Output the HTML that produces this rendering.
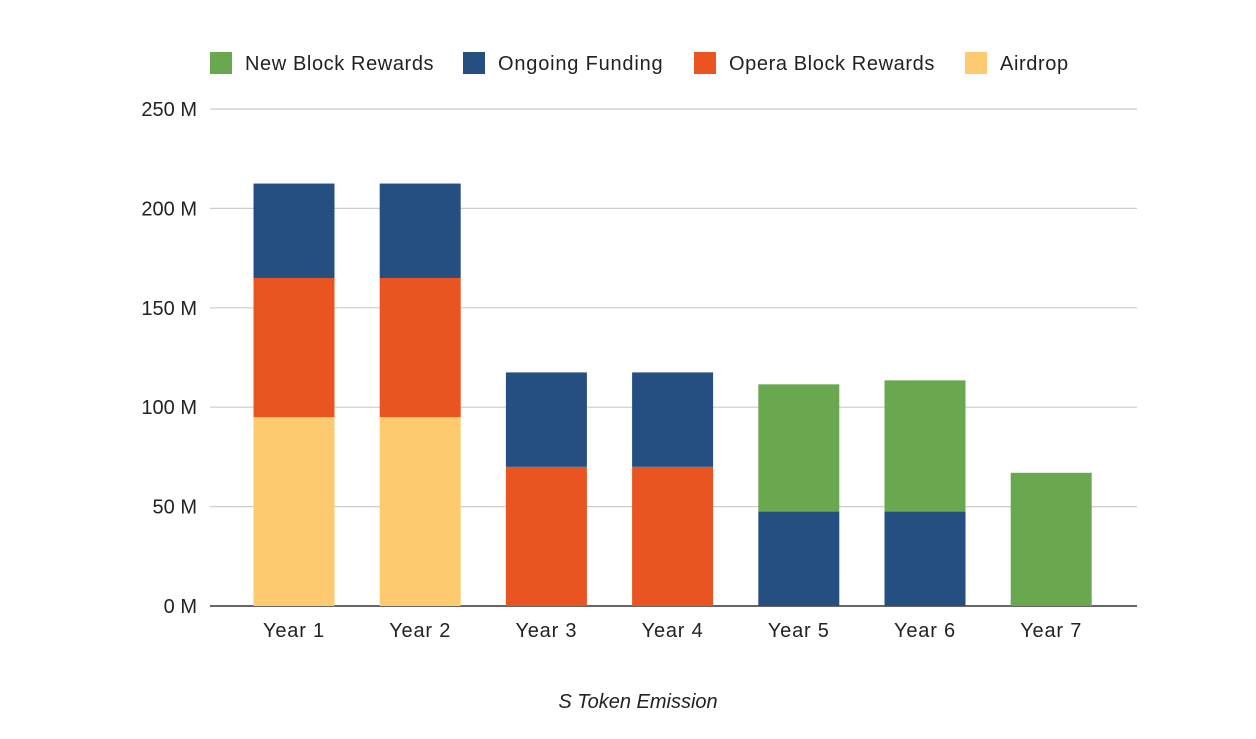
<!DOCTYPE html>
<html><head><meta charset="utf-8"><style>
body{margin:0;background:#fff;font-family:"Liberation Sans",Arial,sans-serif}
svg text{font-family:"Liberation Sans",Arial,sans-serif}
</style></head><body>
<svg width="1256" height="734">
<g id="grid"></g>
<g id="bars"></g>
<g id="labels"></g>
<g>
<rect x="210" y="52" width="22" height="22" fill="#6aa84f"/>
<text x="245" y="70" font-size="20" letter-spacing="0.6" fill="#222">New Block Rewards</text>
<rect x="463" y="52" width="22" height="22" fill="#244f80"/>
<text x="498" y="70" font-size="20" letter-spacing="0.8" fill="#222">Ongoing Funding</text>
<rect x="694" y="52" width="22" height="22" fill="#e95420"/>
<text x="729" y="70" font-size="20" letter-spacing="0.6" fill="#222">Opera Block Rewards</text>
<rect x="965" y="52" width="22" height="22" fill="#fdca70"/>
<text x="1000" y="70" font-size="20" letter-spacing="0.6" fill="#222">Airdrop</text>
</g>
<text x="638" y="708" font-size="20" font-style="italic" text-anchor="middle" fill="#222">S Token Emission</text>
</svg>
<script>
const categories=["Year 1","Year 2","Year 3","Year 4","Year 5","Year 6","Year 7"];
const airdrop=[95,95,0,0,0,0,0];
const opera=[70,70,70,70,0,0,0];
const funding=[47.5,47.5,47.5,47.5,47.5,47.5,0];
const newBlock=[0,0,0,0,64,66,67];
const yTicks=[0,50,100,150,200,250];
const ns="http://www.w3.org/2000/svg";
const y0=606,yPer=(606-109)/250;
const y=v=>y0-v*yPer;
const x=i=>294+i*126.2;
const bw=81;
const grid=document.getElementById('grid'),bars=document.getElementById('bars'),labels=document.getElementById('labels');
function mk(tag,attrs,parent){const e=document.createElementNS(ns,tag);for(const k in attrs)e.setAttribute(k,attrs[k]);parent.appendChild(e);return e;}
yTicks.forEach(t=>{
 const l=mk('line',{x1:210,x2:1137,y1:y(t),y2:y(t),stroke:t===0?'#333':'#ccc','stroke-width':t===0?1.5:1.2},grid);
 
 
 const tx=mk('text',{x:197,y:y(t)+7,'font-size':20,'text-anchor':'end',fill:'#222'},labels);
 tx.textContent=t+' M';
 
 
});
const series=[[airdrop,'#fdca70','airdrop'],[opera,'#e95420','opera'],[funding,'#244f80','funding'],[newBlock,'#6aa84f','new-block']];
categories.forEach((c,i)=>{
 let base=0;
 series.forEach(([arr,col,nm])=>{
  const v=arr[i];if(!v)return;
  const r=mk('rect',{x:x(i)-bw/2,y:y(base+v),width:bw,height:v*yPer,fill:col},bars);
  
  
  base+=v;
 });
 const tx=mk('text',{x:x(i),y:637,'font-size':20,'letter-spacing':0.8,'text-anchor':'middle',fill:'#222'},labels);
 tx.textContent=c;
 
 
});
</script>
</body></html>
